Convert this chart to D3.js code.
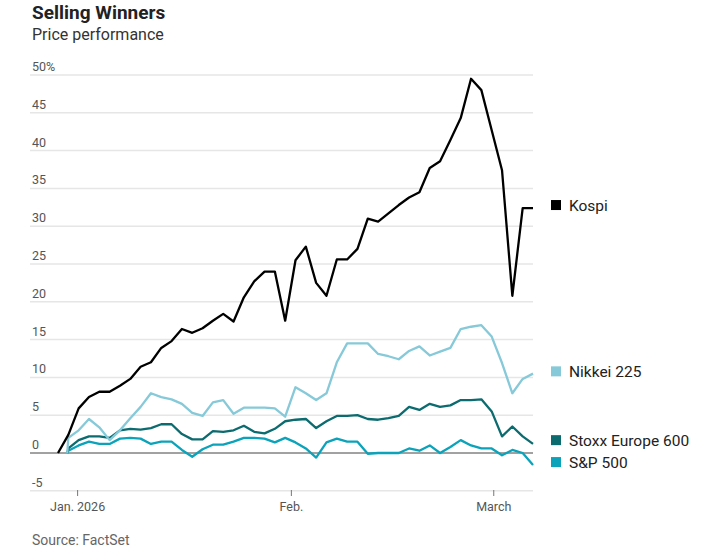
<!DOCTYPE html>
<html>
<head>
<meta charset="utf-8">
<script src="https://cdn.jsdelivr.net/npm/d3@7"></script>
<style>
  body { margin: 0; background: #fff; font-family: Roboto, "Liberation Sans", sans-serif; }
</style>
</head>
<body>
<svg id="chart" width="719" height="558"></svg>
<script>
// trading-day index values
const kospi = [0, 2.4, 5.9, 7.4, 8.1, 8.1, 8.9, 9.8, 11.4, 12.0, 13.9, 14.8, 16.4, 15.9, 16.5, 17.5, 18.4, 17.4, 20.6, 22.7, 24.0, 24.0, 17.5, 25.5, 27.3, 22.5, 20.8, 25.6, 25.6, 27.0, 31.0, 30.6, 31.7, 32.8, 33.8, 34.5, 37.7, 38.6, 41.4, 44.3, 49.5, 48.0, 42.7, 37.4, 20.8, 32.4, 32.4];
const nikkei = [0, 2.0, 3.0, 4.5, 3.4, 1.7, 3.0, 4.6, 6.1, 7.9, 7.4, 7.1, 6.5, 5.3, 4.9, 6.7, 7.0, 5.2, 6.0, 6.0, 6.0, 5.9, 4.8, 8.7, 7.9, 7.0, 7.9, 12.0, 14.5, 14.5, 14.5, 13.1, 12.8, 12.4, 13.5, 14.1, 12.9, 13.4, 13.9, 16.4, 16.7, 16.9, 15.4, 11.9, 7.9, 9.8, 10.5];
const stoxx = [0, 0.6, 1.7, 2.2, 2.2, 2.0, 3.0, 3.2, 3.1, 3.3, 3.8, 3.8, 2.5, 1.8, 1.8, 2.9, 2.8, 3.0, 3.6, 2.8, 2.6, 3.2, 4.2, 4.4, 4.5, 3.3, 4.2, 4.9, 4.9, 5.0, 4.5, 4.4, 4.6, 4.9, 6.1, 5.7, 6.5, 6.1, 6.3, 7.0, 7.0, 7.1, 5.5, 2.2, 3.5, 2.2, 1.2];
const sp500 = [0, 0.3, 1.0, 1.5, 1.2, 1.2, 1.9, 2.0, 1.9, 1.2, 1.5, 1.5, 0.4, -0.5, 0.5, 1.1, 1.1, 1.5, 2.0, 2.0, 1.9, 1.4, 2.0, 1.4, 0.6, -0.6, 1.4, 1.9, 1.5, 1.5, -0.1, 0, 0, 0, 0.6, 0.3, 1.0, 0, 0.8, 1.7, 1.0, 0.6, 0.6, -0.3, 0.4, 0, -1.6];

const yTicks = [-5, 0, 5, 10, 15, 20, 25, 30, 35, 40, 45, 50];
const xTickPos = [1.9, 22.6, 42.2];
const xTickLabels = ["Jan. 2026", "Feb.", "March"];

const series = [
  { name: "Kospi", values: kospi, start: 0, color: "#000000", labelY: 32.8 },
  { name: "Nikkei 225", values: nikkei, start: 0.9, color: "#86c9d8", labelY: 10.8 },
  { name: "Stoxx Europe 600", values: stoxx, start: 0.9, color: "#0b6b6f", labelY: 1.7 },
  { name: "S&P 500", values: sp500, start: 0.9, color: "#0aa3ba", labelY: -1.2 }
];

const svg = d3.select("#chart");
const x = d3.scaleLinear().domain([0, 46]).range([58, 533]);
const y = d3.scaleLinear().domain([0, 50]).range([453, 75]);

svg.append("text").attr("x", 32).attr("y", 19)
  .attr("font-size", 19).attr("font-weight", 700).attr("fill", "#222")
  .text("Selling Winners");
svg.append("text").attr("x", 32).attr("y", 40)
  .attr("font-size", 16).attr("fill", "#333")
  .text("Price performance");

// gridlines + labels
yTicks.forEach(t => {
  svg.append("line")
    .attr("x1", 30).attr("x2", 533)
    .attr("y1", y(t)).attr("y2", y(t))
    .attr("stroke", t === 0 ? "#444" : "#e6e6e6")
    .attr("stroke-width", t === 0 ? 1 : 1.5);
  svg.append("text").attr("x", 32).attr("y", y(t) - 4)
    .attr("font-size", 12.5).attr("fill", "#555")
    .text(t === 50 ? "50%" : t);
});

// x ticks
xTickPos.forEach((p, i) => {
  svg.append("line").attr("x1", x(p)).attr("x2", x(p))
    .attr("y1", 490).attr("y2", 496).attr("stroke", "#777");
  svg.append("text").attr("x", x(p)).attr("y", 511)
    .attr("text-anchor", "middle").attr("font-size", 12.5).attr("fill", "#555")
    .text(xTickLabels[i]);
});

const line = d3.line().x(d => x(d[0])).y(d => y(d[1]));

series.slice().reverse().forEach(s => {
  const pts = s.values.map((v, i) => [i === 0 ? s.start : i, v]);
  svg.append("path").datum(pts)
    .attr("d", line)
    .attr("fill", "none")
    .attr("stroke", s.color)
    .attr("stroke-width", 2.3)
    .attr("stroke-linejoin", "round");

  svg.append("rect").attr("x", 551).attr("y", y(s.labelY) - 5)
    .attr("width", 10).attr("height", 10).attr("fill", s.color);
  svg.append("text").attr("x", 569).attr("y", y(s.labelY) + 5.5)
    .attr("font-size", 15.5).attr("fill", "#222").text(s.name);
});

svg.append("text").attr("x", 32).attr("y", 545)
  .attr("font-size", 14).attr("fill", "#666")
  .text("Source: FactSet");
</script>
</body>
</html>
